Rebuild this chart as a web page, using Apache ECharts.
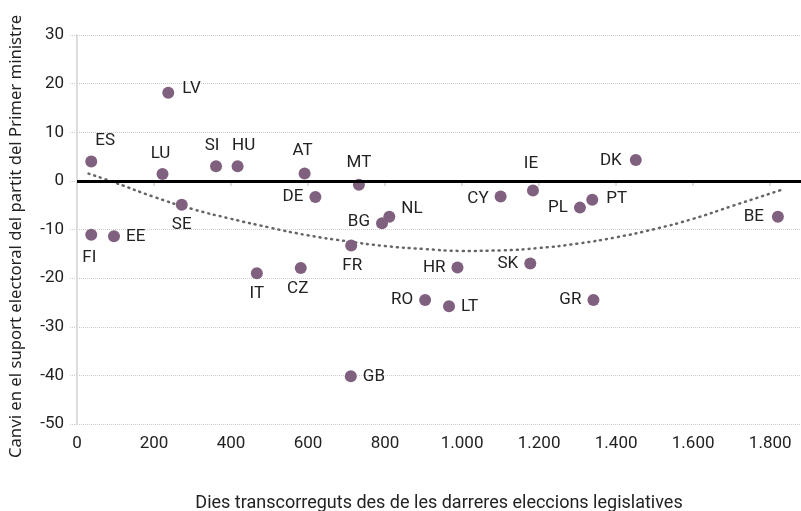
<!DOCTYPE html>
<html>
<head>
<meta charset="utf-8">
<script src="https://cdn.jsdelivr.net/npm/echarts@6/dist/echarts.min.js"></script>
<style>
    html, body { margin: 0; padding: 0; background: #fff; }
    #main { width: 801px; height: 511px; }
</style>
</head>
<body>
<div id="main"></div>
<script>
// dades: dies des de les darreres eleccions i canvi en el suport (punts)
var countries = ['ES', 'LV', 'LU', 'SI', 'HU', 'AT', 'MT', 'DE', 'SE', 'BG', 'NL', 'FI', 'EE', 'FR',
    'IT', 'CZ', 'HR', 'RO', 'LT', 'GB', 'CY', 'IE', 'PL', 'PT', 'DK', 'BE', 'SK', 'GR'];
var days = [37, 237, 222, 361, 417, 591, 732, 619, 272, 792, 811, 37, 96, 712,
    467, 581, 988, 904, 966, 711, 1100, 1184, 1306, 1338, 1451, 1820, 1177, 1341];
var change = [4.0, 18.1, 1.4, 3.0, 3.0, 1.5, -0.8, -3.3, -4.9, -8.7, -7.4, -11.1, -11.4, -13.3,
    -19.0, -17.9, -17.8, -24.5, -25.8, -40.2, -3.2, -2.0, -5.5, -3.9, 4.3, -7.4, -17.0, -24.5];

// línia de tendència (llegida del gràfic)
var trendX = [30, 100, 200, 300, 400, 500, 600, 700, 800, 900, 1000, 1100, 1200, 1300, 1400, 1500, 1600, 1700, 1835];
var trendY = [1.5, -0.4, -3.3, -5.8, -7.8, -9.6, -11.2, -12.4, -13.4, -14.0, -14.4, -14.3, -13.8, -12.9, -11.6, -9.9, -7.8, -5.2, -1.7];

var xTicks = [0, 200, 400, 600, 800, 1000, 1200, 1400, 1600, 1800];
var yTicks = [-50, -40, -30, -20, -10, 0, 10, 20, 30];

// on va cada etiqueta
var labelPlace = {
    ES: ['top', [14, 0]], LV: ['right', [2, -4]], LU: ['top', [-2, 0]], SI: ['top', [-4, 0]],
    HU: ['top', [6, 0]], AT: ['top', [-2, -2]], MT: ['top', [0, -2]], DE: ['left', [0, 0]],
    SE: ['bottom', [0, 0]], BG: ['left', [0, -1]], NL: ['right', [0, -8]], FI: ['bottom', [-2, 2]],
    EE: ['right', [0, 0]], FR: ['bottom', [1, 0]], IT: ['bottom', [0, 0]], CZ: ['bottom', [-3, 0]],
    HR: ['left', [0, 0]], RO: ['left', [0, 0]], LT: ['right', [0, 0]], GB: ['right', [0, 0]],
    CY: ['left', [0, 2]], IE: ['top', [-2, -6]], PL: ['left', [0, 0]], PT: ['right', [2, -1]],
    DK: ['left', [-2, 1]], BE: ['left', [-2, 0]], SK: ['left', [0, 0]], GR: ['left', [0, 0]]
};

var points = countries.map(function (c, i) {
    return {
        name: c,
        value: [days[i], change[i]],
        label: {
            position: labelPlace[c][0],
            offset: labelPlace[c][1]
        }
    };
});

var trend = trendX.map(function (x, i) {
    return [x, trendY[i]];
});

var chart = echarts.init(document.getElementById('main'));
var option = {
    animation: false,
    grid: {
        left: 77,
        right: 0,
        top: 35,
        bottom: 87,
        containLabel: false,
        outerBoundsMode: 'none'
    },
    xAxis: {
        type: 'value',
        min: 0,
        max: 1880,
        interval: 200,
        name: 'Dies transcorreguts des de les darreres eleccions legislatives',
        nameLocation: 'middle',
        nameGap: 70,
        nameTextStyle: {
            fontFamily: 'Roboto, sans-serif',
            fontSize: 18,
            color: '#222'
        },
        axisLine: {
            lineStyle: { color: '#ddd', width: 2 }
        },
        axisTick: {
            show: true,
            length: 5,
            lineStyle: { color: '#ddd', width: 2 }
        },
        splitLine: { show: false },
        axisLabel: {
            showMaxLabel: false,
            margin: 11,
            fontFamily: 'Roboto, sans-serif',
            fontSize: 17,
            color: '#222',
            formatter: function (v) {
                if (xTicks.indexOf(v) < 0) return '';
                return String(v).replace(/\B(?=(\d{3})+(?!\d))/g, '.');
            }
        }
    },
    yAxis: {
        type: 'value',
        min: -50,
        max: 30,
        interval: 10,
        name: 'Canvi en el suport electoral del partit del Primer ministre',
        nameLocation: 'middle',
        nameGap: 52,
        nameTextStyle: {
            fontFamily: 'Noto Sans, sans-serif',
            fontSize: 16.7,
            color: '#222',
            padding: [0, 14, 0, 0]
        },
        axisLine: {
            show: true,
            lineStyle: { color: '#ddd', width: 2 }
        },
        axisTick: {
            show: true,
            length: 7,
            lineStyle: { color: '#ccc', type: 'dotted' }
        },
        splitLine: {
            show: true,
            lineStyle: { color: '#ccc', type: 'dotted', width: 1 }
        },
        axisLabel: {
            margin: 13,
            fontFamily: 'Roboto, sans-serif',
            fontSize: 17,
            color: '#222',
            formatter: function (v) {
                return yTicks.indexOf(v) < 0 ? '' : String(v);
            }
        }
    },
    series: [
        {
            name: 'tendència',
            type: 'line',
            data: trend,
            smooth: true,
            symbol: 'none',
            silent: true,
            lineStyle: {
                color: '#666',
                width: 2.5,
                type: [1, 5],
                cap: 'round'
            },
            markLine: {
                silent: true,
                symbol: 'none',
                label: { show: false },
                lineStyle: { color: '#000', type: 'solid', width: 3 },
                data: [{ yAxis: 0 }]
            },
            z: 1
        },
        {
            name: 'països',
            type: 'scatter',
            data: points,
            symbolSize: 12,
            itemStyle: {
                color: '#80607f',
                opacity: 1
            },
            label: {
                show: true,
                formatter: '{b}',
                distance: 6,
                fontFamily: 'Roboto, sans-serif',
                fontSize: 17,
                color: '#222'
            },
            z: 3
        }
    ]
};
chart.setOption(option);
</script>
</body>
</html>
